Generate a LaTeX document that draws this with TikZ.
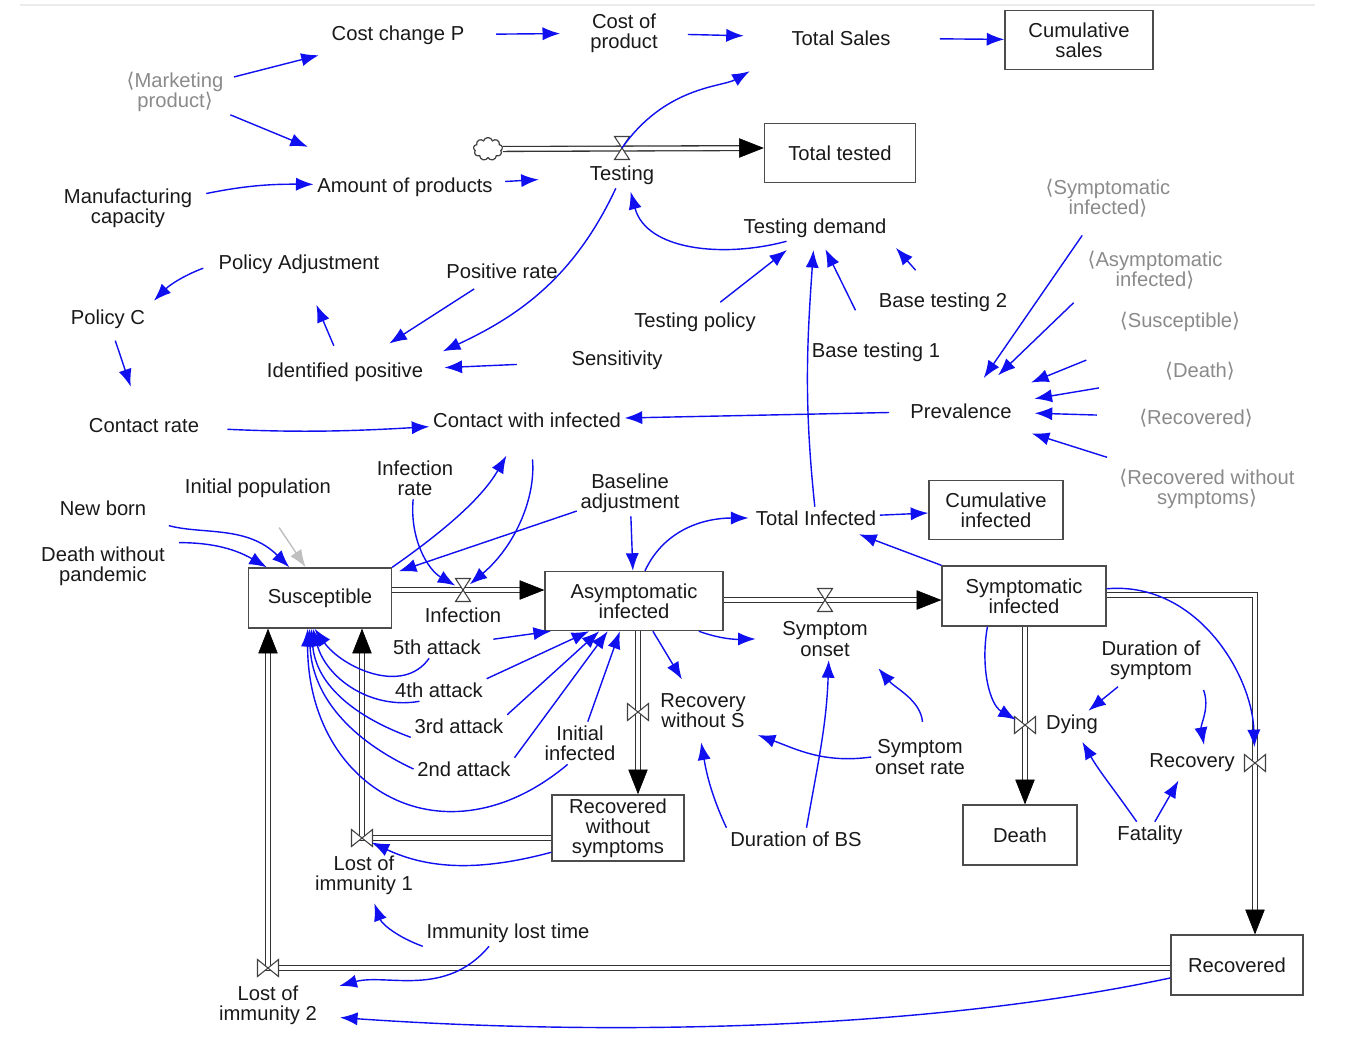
\documentclass[tikz,border=0pt]{standalone}
\usepackage{fontspec}
\setmainfont{Liberation Sans}
\newfontfamily\bracketfont{DejaVu Sans}
\usetikzlibrary{arrows.meta,shapes.symbols}
\definecolor{linkblue}{RGB}{15,15,240}
\definecolor{ghostgray}{RGB}{138,138,138}
\newcommand{\lbr}{{\bracketfont ⟨}}
\newcommand{\rbr}{{\bracketfont ⟩}}
\tikzset{
    var/.style={font=\fontsize{11.5}{11.5}\selectfont, align=center, inner sep=2pt, text=black!90},
    ghost/.style={var, text=ghostgray},
    stock/.style={var, draw=black!70, line width=0.8pt, minimum height=1.18cm},
    link/.style={draw=linkblue, line width=0.8pt, -{Latex[length=10pt,width=7.5pt]}},
    pipe/.style={draw=black!80, line width=0.75pt, double=white, double distance=2pt},
    pipetip/.style={black, line width=0.3pt, -{Triangle[length=14pt,width=11pt]}},
    valve/.style={draw=black!75, fill=white, line width=0.6pt},
    pics/hvalve/.style={code={\draw[valve] (-7.5,11.5) -- (7.5,11.5) -- (-7.5,-11.5) -- (7.5,-11.5) -- cycle;}},
    pics/vvalve/.style={code={\draw[valve] (-10.5,8.5) -- (-10.5,-8.5) -- (10.5,8.5) -- (10.5,-8.5) -- cycle;}}
}
\begin{document}
\begin{tikzpicture}[x=0.02cm, y=0.02cm]
    \useasboundingbox (0,0) rectangle (1363,-1046);
    \draw[black!8, line width=1pt] (20,-5) -- (1315,-5);

    \node[ghost] (marketing) at (175,-92) {\lbr Marketing\\product\rbr};
    \node[var] (costchg) at (398,-35) {Cost change P};
    \node[var] (costprod) at (624,-33) {Cost of\\product};
    \node[var] (totsales) at (841,-38) {Total Sales};
    \node[stock, minimum width=2.96cm] (cumsales) at (1079,-40) {Cumulative\\sales};
    \node[var] (manuf) at (128,-208) {Manufacturing\\capacity};
    \node[var] (amount) at (405,-187) {Amount of products};
    \node[var] (testing) at (622,-175) {Testing};
    \node[stock, minimum width=3.02cm] (totaltested) at (840,-153) {Total tested};
    \node[var] (testdemand) at (815,-228) {Testing demand};
    \node[ghost] (sympg) at (1108,-198) {\lbr Symptomatic\\infected\rbr};
    \node[ghost] (asymg) at (1155,-270) {\lbr Asymptomatic\\infected\rbr};
    \node[ghost] (suscg) at (1180,-322) {\lbr Susceptible\rbr};
    \node[ghost] (deathg) at (1200,-371) {\lbr Death\rbr};
    \node[ghost] (recovg) at (1196,-418) {\lbr Recovered\rbr};
    \node[ghost] (rwsg) at (1207,-489) {\lbr Recovered without\\symptoms\rbr};
    \node[var] (policyadj) at (299,-264) {Policy Adjustment};
    \node[var] (policyc) at (108,-319) {Policy C};
    \node[var] (posrate) at (502,-271) {Positive rate};
    \node[var] (testpolicy) at (695,-322) {Testing policy};
    \node[var] (basetest2) at (943,-302) {Base testing 2};
    \node[var] (basetest1) at (876,-352) {Base testing 1};
    \node[var] (sensitivity) at (617,-360) {Sensitivity};
    \node[var] (identified) at (345,-372) {Identified positive};
    \node[var] (prevalence) at (961,-411) {Prevalence};
    \node[var] (contactrate) at (144,-426) {Contact rate};
    \node[var] (contactinf) at (527,-420) {Contact with infected};
    \node[var] (infrate) at (415,-478) {Infection\\rate};
    \node[var] (initpop) at (258,-488) {Initial population};
    \node[var] (newborn) at (103,-508) {New born};
    \node[var] (deathwo) at (103,-566) {Death without\\pandemic};
    \node[var] (baseline) at (630,-493) {Baseline\\adjustment};
    \node[var] (totinf) at (816,-518) {Total Infected};
    \node[stock, minimum width=2.68cm] (cuminf) at (996,-510) {Cumulative\\infected};
    \node[stock, minimum width=2.86cm, minimum height=1.2cm] (suscept) at (320,-598) {Susceptible};
    \node[var] (infection) at (463,-615) {Infection};
    \node[stock, minimum width=3.56cm] (asym) at (634,-601) {Asymptomatic\\infected};
    \node[var] (onset) at (825,-639) {Symptom\\onset};
    \node[stock, minimum width=3.28cm, minimum height=1.2cm] (symp) at (1024,-596) {Symptomatic\\infected};
    \node[var] (att5) at (437,-647) {5th attack};
    \node[var] (att4) at (439,-690) {4th attack};
    \node[var] (att3) at (459,-726) {3rd attack};
    \node[var] (att2) at (464,-769) {2nd attack};
    \node[var] (initinf) at (580,-743) {Initial\\infected};
    \node[var] (recwos) at (703,-711) {Recovery\\without S};
    \node[var] (dursym) at (1151,-660) {Duration of\\symptom};
    \node[var] (dying) at (1072,-724) {Dying};
    \node[var] (recovery) at (1192,-763) {Recovery};
    \node[var] (onsetrate) at (920,-757) {Symptom\\onset rate};
    \node[stock, minimum width=2.64cm, minimum height=1.3cm] (rws) at (618,-828) {Recovered\\without\\symptoms};
    \node[var] (durbs) at (796,-839) {Duration of BS};
    \node[stock, minimum width=2.28cm, minimum height=1.2cm] (death) at (1020,-835) {Death};
    \node[var] (fatality) at (1150,-835) {Fatality};
    \node[var] (lost1) at (364,-875) {Lost of\\immunity 1};
    \node[var] (immlost) at (508,-933) {Immunity lost time};
    \node[stock, minimum width=2.64cm, minimum height=1.2cm] (recovered) at (1237,-965) {Recovered};
    \node[var] (lost2) at (268,-1005) {Lost of\\immunity 2};

    \node[cloud, cloud puffs=9, aspect=1.3, draw=black!75, line width=0.7pt, minimum width=0.58cm, minimum height=0.46cm, inner sep=0pt] (cloud) at (488,-149) {};
    \coordinate (testv) at (622,-148);
    \coordinate (ttin) at (totaltested.west |- testv);
    \coordinate (infv) at (463,-590);
    \coordinate (infout) at (suscept.east |- infv);
    \coordinate (infin) at (asym.west |- infv);
    \coordinate (onv) at (825,-600);
    \coordinate (onout) at (asym.east |- onv);
    \coordinate (onin) at (symp.west |- onv);
    \coordinate (rwsv) at (638,-712);
    \coordinate (rwsout) at (rwsv |- asym.south);
    \coordinate (rwsin) at (rwsv |- rws.north);
    \coordinate (dyv) at (1025,-725);
    \coordinate (dyout) at (dyv |- symp.south);
    \coordinate (dyin) at (dyv |- death.north);
    \coordinate (reccorner) at (1255,-595);
    \coordinate (recv) at (1255,-763);
    \coordinate (recout) at (symp.east |- reccorner);
    \coordinate (recin) at (reccorner |- recovered.north);
    \coordinate (l1v) at (362,-838);
    \coordinate (l1out) at (rws.west |- l1v);
    \coordinate (l1in) at (l1v |- suscept.south);
    \coordinate (l2v) at (268,-968);
    \coordinate (l2out) at (recovered.west |- l2v);
    \coordinate (l2in) at (l2v |- suscept.south);

    \draw[pipe, shorten >=8pt] (cloud.east) -- (ttin);
    \draw[pipetip] ([xshift=-1pt]ttin) -- (ttin);
    \draw[pipe, shorten >=8pt] (infout) -- (infin);
    \draw[pipetip] ([xshift=-1pt]infin) -- (infin);
    \draw[pipe, shorten >=8pt] (onout) -- (onin);
    \draw[pipetip] ([xshift=-1pt]onin) -- (onin);
    \draw[pipe, shorten >=8pt] (rwsout) -- (rwsin);
    \draw[pipetip] ([yshift=1pt]rwsin) -- (rwsin);
    \draw[pipe, shorten >=8pt] (dyout) -- (dyin);
    \draw[pipetip] ([yshift=1pt]dyin) -- (dyin);
    \draw[pipe, shorten >=8pt] (recout) -- (reccorner) -- (recin);
    \draw[pipetip] ([yshift=1pt]recin) -- (recin);
    \draw[pipe, shorten >=8pt] (l1out) -- (l1v) -- (l1in);
    \draw[pipetip] ([yshift=-1pt]l1in) -- (l1in);
    \draw[pipe, shorten >=8pt] (l2out) -- (l2v) -- (l2in);
    \draw[pipetip] ([yshift=-1pt]l2in) -- (l2in);

    \pic at (testv) {hvalve};
    \pic at (infv) {hvalve};
    \pic at (onv) {hvalve};
    \pic at (rwsv) {vvalve};
    \pic at (dyv) {vvalve};
    \pic at (recv) {vvalve};
    \pic at (l1v) {vvalve};
    \pic at (l2v) {vvalve};

    \draw[link, shorten <=4pt, shorten >=16pt] (marketing) -- (costchg);
    \draw[link, shorten <=2pt, shorten >=40pt] (marketing) -- (amount);
    \draw[link, shorten <=16pt, shorten >=15pt] (costchg) -- (costprod);
    \draw[link, shorten <=15pt, shorten >=25pt] (costprod) -- (totsales);
    \draw[link, shorten <=26pt] (totsales) -- (cumsales);
    \draw[link, shorten >=25pt] (testv) to[out=55,in=210] (totsales.south west);
    \draw[link, shorten <=6pt] (manuf) to[bend left=6] (amount);
    \draw[link, shorten <=5pt, shorten >=27pt] (amount) -- (testing);
    \draw[link, shorten >=10pt] (testing) to[out=-115,in=25] (identified.north east);
    \draw[link, shorten >=2pt] (testdemand.-155) to[out=195,in=-75] (testing.-60);
    \draw[link, shorten <=6pt, shorten >=8pt] (testpolicy) -- (testdemand);
    \draw[link, shorten >=5pt] (totinf) to[out=96,in=-94] (testdemand);
    \draw[link, shorten <=18pt, shorten >=5pt] (basetest1) -- (testdemand);
    \draw[link, shorten <=14pt, shorten >=5pt] (basetest2.130) -- (testdemand.south east);

    \draw[link, shorten <=10pt, shorten >=15pt] (sympg) -- (prevalence);
    \draw[link, shorten <=8pt, shorten >=20pt] (asymg.south west) -- (prevalence);
    \draw[link, shorten <=37pt, shorten >=26pt] (suscg) -- (prevalence);
    \draw[link, shorten <=36pt, shorten >=11pt] (deathg) -- (prevalence);
    \draw[link, shorten <=22pt, shorten >=11pt] (recovg) -- (prevalence);
    \draw[link, shorten <=15pt, shorten >=21pt] (rwsg) -- (prevalence);

    \draw[link, shorten <=10pt] (prevalence) -- (contactinf);
    \draw[link, shorten <=14pt] (contactrate) to[bend right=3] (contactinf);
    \draw[link, shorten <=7pt, shorten >=4pt] (policyadj.west) to[out=200,in=45] (policyc.north east);
    \draw[link, shorten <=5pt, shorten >=17pt] (policyc) -- (contactrate);
    \draw[link, shorten <=8pt, shorten >=17pt] (identified) -- (policyadj);
    \draw[link, shorten <=7pt, shorten >=16pt] (posrate) -- (identified);
    \draw[link, shorten <=29pt, shorten >=10pt] (sensitivity) -- (identified);

    \draw[link, shorten >=16pt] (suscept.north east) to[out=35,in=-120] (contactinf);
    \draw[link, shorten <=16pt, shorten >=5pt] (contactinf.-75) to[out=-85,in=40] (infv);
    \draw[link, shorten >=5pt] (infrate) to[out=-95,in=150] (infv);
    \draw[link, shorten >=4pt] (baseline) -- (suscept);
    \draw[link] (baseline) -- (asym);
    \draw[link, shorten >=2pt] (asym.70) to[out=65,in=180] (totinf);
    \draw[link] (totinf) -- (cuminf);
    \draw[link, shorten >=8pt] (symp.north west) -- (totinf);

    \draw[link, shorten <=14pt] (newborn) to[out=-15,in=135] (suscept);
    \draw[link, shorten <=6pt] (deathwo.north east) to[out=0,in=150] (suscept);
    \draw[link, draw=black!25, shorten <=18pt] (initpop.-75) -- (suscept.115);

    \draw[link] (att5) to[out=-125,in=-55] (suscept.-100);
    \draw[link] (att4.-150) to[out=190,in=-75] (suscept.-103);
    \draw[link] (att3.south west) to[out=160,in=-85] (suscept.-106);
    \draw[link] (att2.west) to[out=155,in=-88] (suscept.-109);
    \draw[link] (initinf.-120) to[out=-140,in=-90,looseness=1.4] (suscept.-112);
    \draw[link, shorten <=5pt] (att5) -- (asym.-160);
    \draw[link] (att4.north east) -- (asym.-146);
    \draw[link] (att3.north east) -- (asym.-139);
    \draw[link] (att2.north east) -- (asym.-131);
    \draw[link] (initinf.70) -- (asym.-115);

    \draw[link, shorten >=7pt] (asym.-58) -- (recwos.125);
    \draw[link, shorten >=13pt] (asym.-25) to[out=-20,in=180] (onset);
    \draw[link, shorten >=5pt] (onsetrate.west) to[out=188,in=-20] (recwos.south east);
    \draw[link, shorten <=8pt, shorten >=6pt] (onsetrate.80) to[out=95,in=-50] (onset.south east);
    \draw[link] (durbs.47) to[out=80,in=-92] (onset.-80);
    \draw[link, shorten >=6pt] (durbs.north west) to[out=115,in=-80] (recwos.-100);

    \draw[link, shorten >=6pt] (symp.-140) to[out=-100,in=150] (dyv);
    \draw[link, shorten <=3pt] (dursym) -- (dying);
    \draw[link, shorten <=4pt, shorten >=3pt] (dursym.-25) to[out=-70,in=100] (recovery.45);
    \draw[link, shorten >=9pt] (symp.5) to[out=5,in=92] (recv);
    \draw[link, shorten >=3pt] (fatality.135) to[out=125,in=-60] (dying.-60);
    \draw[link, shorten >=3pt] (fatality.70) -- (recovery.-130);

    \draw[link, shorten >=6pt] (rws.-160) to[out=195,in=-25] (l1v);
    \draw[link, shorten >=3pt] (immlost.south west) to[out=160,in=-70] (lost1);
    \draw[link, shorten >=11pt] (immlost.-145) to[out=-130,in=15] (lost2);
    \draw[link, shorten >=11pt] (recovered.-169) to[out=192,in=-4,looseness=0.8] (lost2.-12);
\end{tikzpicture}
\end{document}
